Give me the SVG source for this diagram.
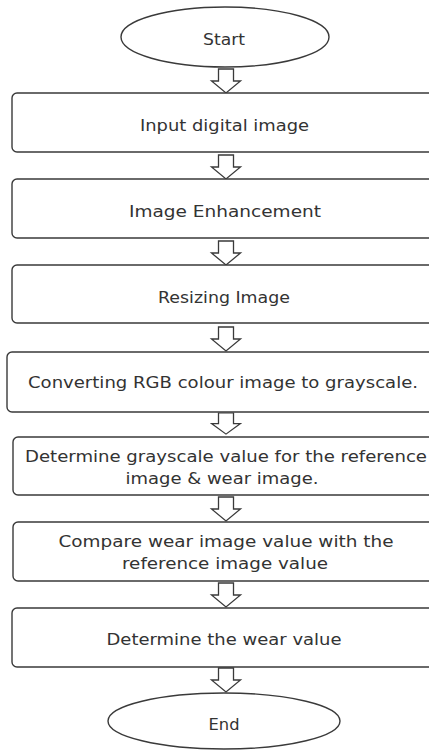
<svg xmlns="http://www.w3.org/2000/svg" width="429" height="751" viewBox="0 0 429 751">
<style>
.box{fill:#fff;stroke:#3a3a3a;stroke-width:1.4}
.term{fill:#fff;stroke:#3a3a3a;stroke-width:1.4}
.arr{fill:#fff;stroke:#3a3a3a;stroke-width:1.3;stroke-linejoin:miter}
text{font-family:"DejaVu Sans","Liberation Sans",sans-serif;font-size:15px;fill:#333;text-anchor:middle}
</style>
<defs>
<path id="blk" d="M-7.5,0 H7.5 V12 H14.5 L0,24 L-14.5,12 H-7.5 Z"/>
</defs>
<rect width="429" height="751" fill="#fff"/>
<g id="connectors">
<use href="#blk" class="arr" transform="translate(226,69) scale(1,1)"/>
<use href="#blk" class="arr" transform="translate(226,155)"/>
<use href="#blk" class="arr" transform="translate(226,241)"/>
<use href="#blk" class="arr" transform="translate(226,327)"/>
<use href="#blk" class="arr" transform="translate(226,413) scale(1,0.88)"/>
<use href="#blk" class="arr" transform="translate(226,497)"/>
<use href="#blk" class="arr" transform="translate(226,583)"/>
<use href="#blk" class="arr" transform="translate(226,668)"/>
</g>
<g id="start">
<ellipse class="term" cx="225" cy="37" rx="104" ry="30"/>
<text x="224" y="45" textLength="42" lengthAdjust="spacingAndGlyphs">Start</text>
</g>
<g id="n1">
<rect class="box" x="12" y="93" width="440" height="59" rx="5"/>
<text x="224.5" y="131" textLength="169" lengthAdjust="spacingAndGlyphs">Input digital image</text>
</g>
<g id="n2">
<rect class="box" x="12" y="179" width="440" height="59" rx="5"/>
<text x="225" y="217" textLength="192" lengthAdjust="spacingAndGlyphs">Image Enhancement</text>
</g>
<g id="n3">
<rect class="box" x="12" y="265" width="440" height="58" rx="5"/>
<text x="224" y="303" textLength="132" lengthAdjust="spacingAndGlyphs">Resizing Image</text>
</g>
<g id="n4">
<rect class="box" x="7" y="352" width="445" height="60" rx="5"/>
<text x="223" y="388" textLength="390" lengthAdjust="spacingAndGlyphs">Converting RGB colour image to grayscale.</text>
</g>
<g id="n5">
<rect class="box" x="13" y="437" width="440" height="58" rx="5"/>
<text x="226" y="462" textLength="402" lengthAdjust="spacingAndGlyphs">Determine grayscale value for the reference</text>
<text x="222" y="484" textLength="193" lengthAdjust="spacingAndGlyphs">image &amp; wear image.</text>
</g>
<g id="n6">
<rect class="box" x="13" y="522" width="440" height="59" rx="5"/>
<text x="226" y="547" textLength="335" lengthAdjust="spacingAndGlyphs">Compare wear image value with the</text>
<text x="225" y="569" textLength="206" lengthAdjust="spacingAndGlyphs">reference image value</text>
</g>
<g id="n7">
<rect class="box" x="12" y="608" width="440" height="59" rx="5"/>
<text x="224" y="645" textLength="235" lengthAdjust="spacingAndGlyphs">Determine the wear value</text>
</g>
<g id="end">
<ellipse class="term" cx="224" cy="721" rx="116" ry="28"/>
<text x="224" y="730" textLength="31" lengthAdjust="spacingAndGlyphs">End</text>
</g>
</svg>
